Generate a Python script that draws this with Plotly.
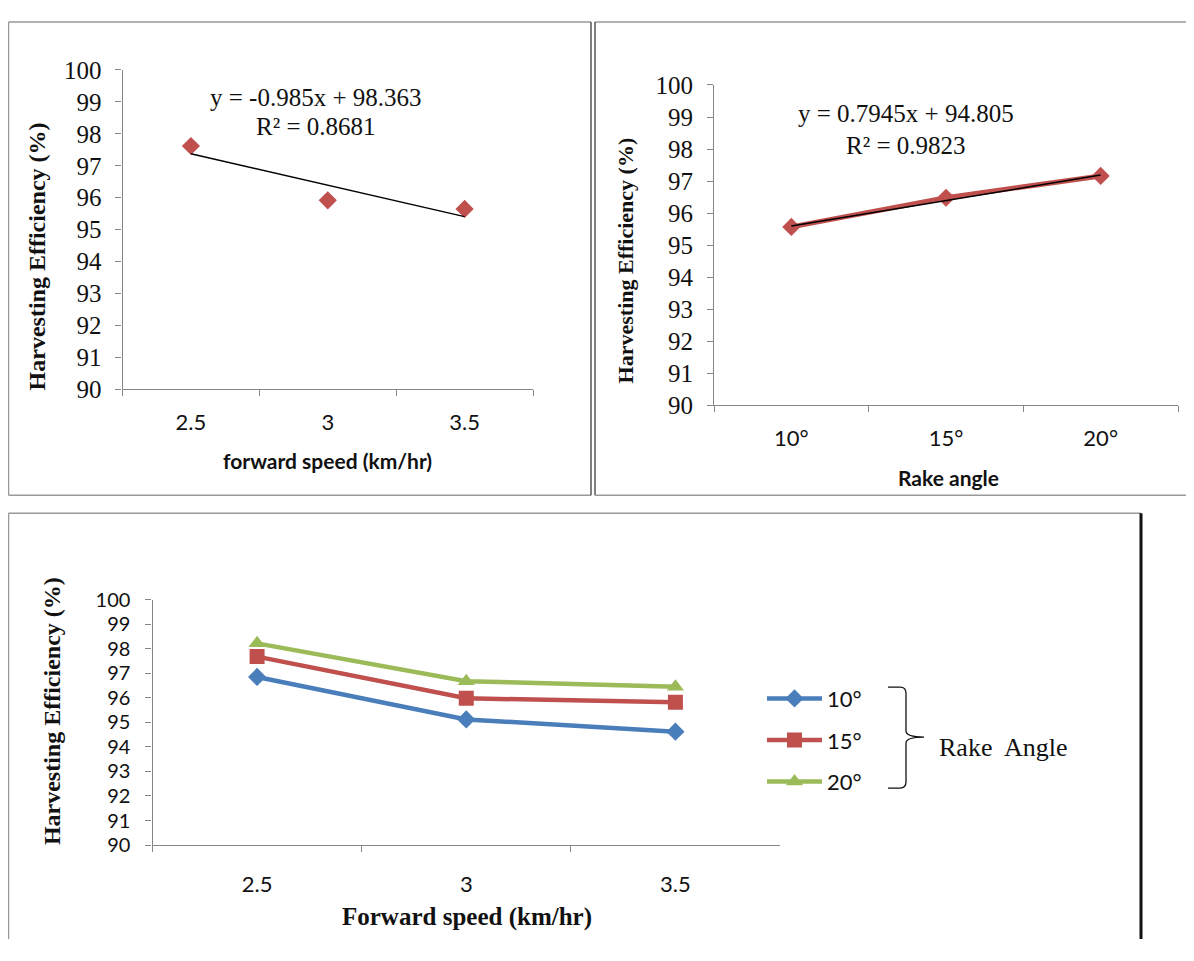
import plotly.graph_objects as go

# ---------------- data ----------------
speed_labels = ["2.5", "3", "3.5"]
eff_by_speed = [97.62, 95.92, 95.65]
trend_speed = [-0.985, 98.363]          # slope, intercept (x = 1..3)

rake_labels = ["10°", "15°", "20°"]
eff_by_rake = [95.57, 96.48, 97.16]
trend_rake = [0.7945, 94.805]

series_names = ["10°", "15°", "20°"]
eff_10 = [96.85, 95.12, 94.62]
eff_15 = [97.68, 95.98, 95.82]
eff_20 = [98.22, 96.68, 96.45]

y_ticks = list(range(90, 101))

# page body has an 8px margin; compensate so the picture lands where intended
OFF = 8
W, H = 1194 - 2 * OFF, 961 - 2 * OFF
def px(x): return (x - OFF) / W
def py(y):
    t = (y - 13.7) / 0.972
    return 1 - (t - OFF) / H

RED = "#C0504D"
BLUE = "#4A7EBB"
GREEN = "#9BBB59"
AXC = "#868686"
SERIF = "Liberation Serif"
SANS = "Lato"

fig = go.Figure()

# ---- top-left: efficiency vs forward speed ----
fig.add_trace(go.Scatter(x=speed_labels, y=eff_by_speed, mode="markers",
                         marker=dict(symbol="diamond", size=14, color=RED),
                         xaxis="x", yaxis="y", showlegend=False))
t1 = [trend_speed[0] * (i + 1) + trend_speed[1] for i in range(len(speed_labels))]
fig.add_trace(go.Scatter(x=speed_labels, y=t1, mode="lines",
                         line=dict(color="black", width=1.5),
                         xaxis="x", yaxis="y", showlegend=False))

# ---- top-right: efficiency vs rake angle ----
fig.add_trace(go.Scatter(x=rake_labels, y=eff_by_rake, mode="lines+markers",
                         line=dict(color=RED, width=5),
                         marker=dict(symbol="diamond", size=14, color=RED),
                         xaxis="x2", yaxis="y2", showlegend=False))
t2 = [trend_rake[0] * (i + 1) + trend_rake[1] for i in range(len(rake_labels))]
fig.add_trace(go.Scatter(x=rake_labels, y=t2, mode="lines",
                         line=dict(color="black", width=1.5),
                         xaxis="x2", yaxis="y2", showlegend=False))

# ---- bottom: three rake angles ----
for name, vals, col, sym, sz in [(series_names[0], eff_10, BLUE, "diamond", 14),
                                 (series_names[1], eff_15, RED, "square", 15),
                                 (series_names[2], eff_20, GREEN, "triangle-up", 15)]:
    fig.add_trace(go.Scatter(x=speed_labels, y=vals, mode="lines+markers", name=name,
                             line=dict(color=col, width=4.5),
                             marker=dict(symbol=sym, size=sz, color=col),
                             legendgroup=name,
                             xaxis="x3", yaxis="y3", showlegend=True))

def xax(domain, anchor, font, size, standoff):
    return dict(domain=domain, anchor=anchor, type="category", range=[-0.5, 2.5],
                showline=True, linecolor=AXC, linewidth=1.2,
                ticks="outside", tickson="boundaries", ticklen=6, tickcolor=AXC,
                showgrid=False, zeroline=False,
                tickfont=dict(family=font, size=size, color="#111"),
                ticklabelstandoff=standoff, fixedrange=True)

def yax(domain, anchor, font, size, standoff):
    return dict(domain=domain, anchor=anchor, range=[90, 100],
                tickvals=y_ticks, showline=True, linecolor=AXC, linewidth=1.2,
                ticks="outside", ticklen=6, tickcolor=AXC,
                showgrid=False, zeroline=False,
                tickfont=dict(family=font, size=size, color="#111"),
                ticklabelstandoff=standoff, fixedrange=True)

fig.update_layout(
    width=W, height=H,
    margin=dict(l=0, r=0, t=0, b=0),
    paper_bgcolor="white", plot_bgcolor="white",
    xaxis=xax([px(122.5), px(533)], "y", SANS, 22, 13),
    yaxis=yax([py(390), py(70.5)], "x", SERIF, 25, 9),
    xaxis2=xax([px(714), px(1178)], "y2", SANS, 22, 13),
    yaxis2=yax([py(406), py(85.5)], "x2", SERIF, 25, 9),
    xaxis3=xax([px(152.5), px(780)], "y3", SANS, 22, 19),
    yaxis3=yax([py(846), py(600.5)], "x3", SANS, 20, 11),
    legend=dict(x=px(762), y=py(741), xanchor="left", yanchor="middle",
                font=dict(family=SANS, size=22, color="#111"),
                bgcolor="rgba(0,0,0,0)", itemwidth=55, tracegroupgap=10),
    showlegend=True,
)

ann = []
def A(text, x, y, family, size, bold=False, angle=0, xanchor="center"):
    ann.append(dict(text=("<b>%s</b>" % text) if bold else text, x=px(x), y=py(y),
                    xref="paper", yref="paper", showarrow=False, textangle=angle,
                    xanchor=xanchor, yanchor="middle",
                    font=dict(family=family, size=size, color="#111")))

A("Harvesting Efficiency (%)", 37, 257, SERIF, 24, bold=True, angle=-90)
A("forward speed (km/hr)", 327, 461, SANS, 21, bold=True)
A("y = -0.985x + 98.363", 316, 98, SERIF, 25)
A("R² = 0.8681", 316, 127, SERIF, 25)

A("Harvesting Efficiency (%)", 625, 261, SERIF, 22, bold=True, angle=-90)
A("Rake angle", 948, 478, SANS, 21, bold=True)
A("y = 0.7945x + 94.805", 906, 114, SERIF, 25)
A("R² = 0.9823", 906, 146, SERIF, 25)

A("Harvesting Efficiency (%)", 52, 712, SERIF, 24, bold=True, angle=-90)
A("Forward speed (km/hr)", 467, 918, SERIF, 25, bold=True)
A("Rake  Angle", 937, 748, SERIF, 26, xanchor="left")
fig.update_layout(annotations=ann)

shapes = []
def L(x0, y0, x1, y1, color="#999999", width=1.5, yref="paper"):
    shapes.append(dict(type="line", xref="paper", yref="paper",
                       x0=px(x0), y0=y0, x1=px(x1), y1=y1,
                       line=dict(color=color, width=width)))

TOP = 0.999     # top of the picture
BOT = 0.0       # bottom of the picture
# panel borders
L(8.5, TOP, 591, TOP); L(8.5, TOP, 8.5, py(496)); L(8.5, py(496), 591, py(496))
L(591, TOP, 591, py(496), "#555555", 1.5)
L(595, TOP, 1186, TOP); L(595, TOP, 595, py(496), "#555555", 1.5); L(595, py(496), 1186, py(496))
L(8.5, py(514), 1141, py(514)); L(8.5, py(514), 8.5, BOT); L(1141, py(514), 1141, BOT, "#111111", 3)

# brace next to legend
shapes.append(dict(type="path", xref="paper", yref="paper",
                   path="M {a},{b} L {c},{b} Q {d},{b} {d},{e} L {d},{f} Q {d},{g} {h},{g} "
                        "Q {d},{g} {d},{i} L {d},{j} Q {d},{k} {c},{k} L {a},{k}".format(
                            a=px(888), b=py(688), c=px(900), d=px(906), e=py(694),
                            f=py(732), g=py(738), h=px(924), i=py(744), j=py(783),
                            k=py(789)),
                   line=dict(color="#111111", width=1.3)))
fig.update_layout(shapes=shapes)

fig.write_html("out.html")
